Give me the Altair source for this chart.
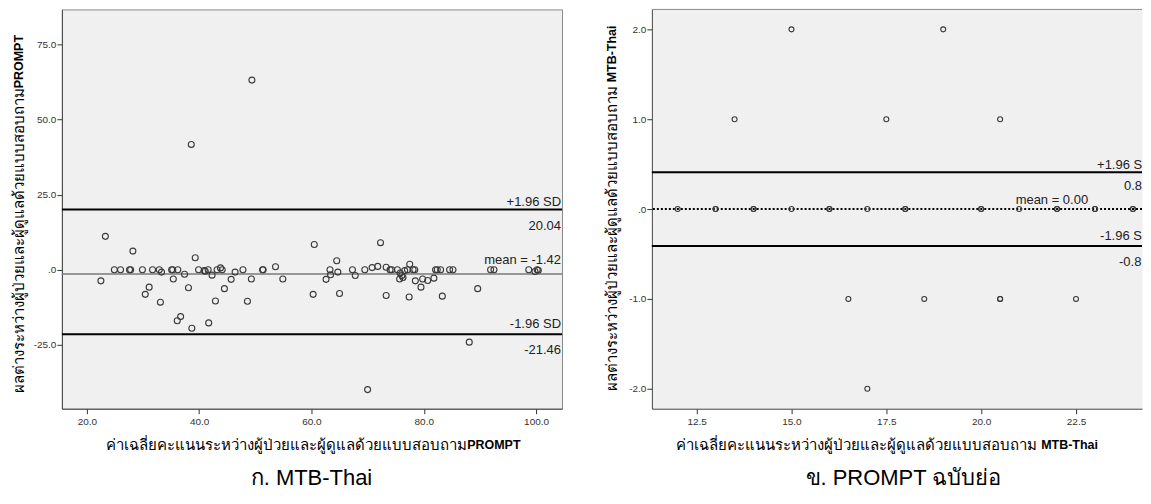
import altair as alt
import pandas as pd

# ---------------- data: left panel ----------------
left_x = [23.3, 28.2, 22.5, 24.9, 26.0, 27.6, 27.8, 29.9, 31.7, 32.9, 33.3, 35.1, 35.3, 36.2,
          37.4, 35.4, 38.1, 31.1, 30.4, 33.1, 36.7, 36.1, 38.7, 41.7, 39.3, 42.9, 44.5, 45.7,
          48.6, 49.3, 53.6, 54.9, 39.9, 40.9, 41.1, 41.6, 42.3, 43.2, 43.8, 44.1, 46.4, 47.8,
          51.3, 51.4, 60.5, 60.3, 72.3, 64.5, 63.3, 63.4, 62.6, 64.7, 65.0, 67.3, 67.8, 69.5,
          70.8, 71.8, 73.3, 73.3, 74.0, 74.3, 75.3, 75.8, 76.1, 75.7, 76.3, 76.6, 77.1, 77.5,
          78.1, 78.4, 77.4, 78.5, 79.5, 79.8, 80.7, 81.8, 82.1, 82.4, 83.0, 84.6, 85.2, 83.3,
          89.6, 91.9, 92.5, 98.7, 99.8, 100.2, 100.4, 88.1, 70.0, 49.4, 38.6]
left_y = [11.1, 6.2, -3.7, 0, 0, 0, 0, 0, 0, 0, -0.8, 0, 0, 0,
          -1.5, -3.1, -6.0, -5.8, -8.2, -10.8, -15.6, -17.0, -19.5, -17.7, 4.0, -10.4, -6.3, -3.2,
          -10.5, -3.1, 1.0, -3.1, 0, -0.3, -0.5, 0, -1.8, 0, 0.6, 0, -0.8, 0,
          0, 0, 8.4, -8.2, 9.0, 3.0, 0, -1.7, -3.2, -0.8, -7.9, 0, -1.9, 0,
          0.7, 1.1, 0.8, -8.6, 0, 0, 0, -1.1, -1.9, -3.1, -2.6, -0.3, 0, 1.8,
          0, 0, -9.1, -3.7, -5.8, -3.1, -3.6, -2.8, 0, 0, 0, 0, 0, -8.8,
          -6.3, 0, 0, 0, -0.6, 0, -0.2, -24.1, -39.9, 63.1, 41.7]
left_limits = [20.04, -21.46]
left_mean = [-1.42]
left_xticks = [20, 40, 60, 80, 100]
left_yticks = [-25, 0, 25, 50, 75]
left_xdomain = [15.56, 104.62]
left_ydomain = [-46.26, 86.63]

# ---------------- data: right panel ----------------
right_x = [12, 13, 13, 14, 14, 15, 16, 16, 17, 18, 18, 20, 20, 21, 22, 22, 23, 23, 24, 24,
           15, 19, 13.5, 17.5, 20.5, 16.5, 18.5, 20.5, 20.5, 22.5, 17]
right_y = [0, 0, 0, 0, 0, 0, 0, 0, 0, 0, 0, 0, 0, 0, 0, 0, 0, 0, 0, 0,
           2, 2, 1, 1, 1, -1, -1, -1, -1, -1, -2]
right_limits = [0.41, -0.41]
right_mean = [0.0]
right_xticks = [12.5, 15.0, 17.5, 20.0, 22.5]
right_yticks = [-2, -1, 0, 1, 2]
right_xdomain = [11.32, 24.24]
right_ydomain = [-2.222, 2.222]

# ---------------- texts ----------------
left_labels = ["+1.96 SD", "20.04", "mean = -1.42", "-1.96 SD", "-21.46"]
right_labels = ["+1.96 SD", "0.88", "mean = 0.00", "-1.96 SD", "-0.88"]
left_xtitle = ["ค่าเฉลี่ยคะแนนระหว่างผู้ป่วยและผู้ดูแลด้วยแบบสอบถาม", "PROMPT"]
left_ytitle = ["ผลต่างระหว่างผู้ป่วยและผู้ดูแลด้วยแบบสอบถาม", "PROMPT"]
right_xtitle = ["ค่าเฉลี่ยคะแนนระหว่างผู้ป่วยและผู้ดูแลด้วยแบบสอบถาม", "MTB-Thai"]
right_ytitle = ["ผลต่างระหว่างผู้ป่วยและผู้ดูแลด้วยแบบสอบถาม", "MTB-Thai"]
captions = ["ก. MTB-Thai", "ข. PROMPT ฉบับย่อ"]

FONT = "Liberation Sans, Arial, sans-serif"
FRAME = "#8a8a8a"
LABEL_EXPR = ("datum.value == 0 ? '.0' : (datum.value < 0 ? '-' : '') + "
              "format(abs(datum.value), '.1f')")


def one_text(text, x, y, **kw):
    return alt.Chart(pd.DataFrame({"t": [text]})).mark_text(font=FONT, **kw).encode(
        x=alt.value(x), y=alt.value(y), text="t:N")


def panel(px, py, limits, mean, xticks, yticks, xdom, ydom, width, height, labels,
          label_pos, mean_style, point_size, xtitle, ytitle, xtitle_pos, ytitle_pos,
          caption, caption_x, open_right=False):
    xax = alt.Axis(values=xticks, labelExpr=LABEL_EXPR, title=None, grid=False,
                   labelPadding=3)
    yax = alt.Axis(values=yticks, labelExpr=LABEL_EXPR, title=None, grid=False,
                   labelPadding=1)
    xsc = alt.Scale(domain=xdom, nice=False, zero=False)
    ysc = alt.Scale(domain=ydom, nice=False, zero=False)

    pts = alt.Chart(pd.DataFrame({"x": px, "y": py})).mark_point(
        shape="circle", filled=False, size=point_size, strokeWidth=1.1,
        color="#3a3a3a", opacity=1).encode(
        x=alt.X("x:Q", scale=xsc, axis=xax), y=alt.Y("y:Q", scale=ysc, axis=yax))

    lim = alt.Chart(pd.DataFrame({"v": limits})).mark_rule(
        color="black", strokeWidth=2).encode(y=alt.Y("v:Q", scale=ysc, axis=yax))
    mn = alt.Chart(pd.DataFrame({"v": mean})).mark_rule(**mean_style).encode(
        y=alt.Y("v:Q", scale=ysc, axis=yax))

    vals = [limits[0], limits[0], mean[0], limits[1], limits[1]]
    layers = [lim, mn, pts]
    for lab, v, (xp, dy, al, lim_w) in zip(labels, vals, label_pos):
        kw = dict(font=FONT, fontSize=13, align=al, baseline="middle", dy=dy,
                  color="#222")
        if lim_w:
            kw.update(limit=lim_w, ellipsis="\u200b")
        layers.append(
            alt.Chart(pd.DataFrame({"v": [v], "t": [lab]})).mark_text(**kw).encode(
                y=alt.Y("v:Q", scale=ysc, axis=yax), x=alt.value(xp), text="t:N"))

    # x title (regular + bold part)
    jx, ty, gap = xtitle_pos
    layers.append(one_text(xtitle[0], jx, ty, fontSize=15, align="right",
                           baseline="middle", color="black"))
    layers.append(one_text(xtitle[1], jx + gap, ty, fontSize=12.5, align="left",
                           baseline="middle", fontWeight="bold", color="black"))
    # y title (rotated)
    tx, jy, gap = ytitle_pos
    layers.append(one_text(ytitle[0], tx, jy, fontSize=15, align="right",
                           baseline="middle", angle=270, color="black"))
    layers.append(one_text(ytitle[1], tx, jy - gap, fontSize=12.5, align="left",
                           baseline="middle", angle=270, fontWeight="bold",
                           color="black"))
    # caption
    layers.append(one_text(caption, caption_x, height + 76, fontSize=22,
                           align="center", baseline="alphabetic", color="black"))

    props = dict(width=width, height=height)
    if open_right:
        # frame continues beyond the picture's right edge: top edge only
        layers.append(alt.Chart(pd.DataFrame({"a": [0]})).mark_rule(
            color=FRAME, strokeWidth=1).encode(
            x=alt.value(0), x2=alt.value(width), y=alt.value(0)))
        props["view"] = alt.ViewBackground(strokeOpacity=0)
    return alt.layer(*layers).properties(**props)


left = panel(left_x, left_y, left_limits, left_mean, left_xticks, left_yticks,
             left_xdomain, left_ydomain, 501, 400, left_labels,
             [(500, -8, "right", 0), (500, 17, "right", 0), (500, -14, "right", 0),
              (500, -10, "right", 0), (500, 16, "right", 0)],
             dict(color="#7a7a7a", strokeWidth=1.5), 36,
             left_xtitle, left_ytitle, (406, 436, 0), (-43, 79, 0),
             captions[0], 250)

right = panel(right_x, right_y, right_limits, right_mean, right_xticks, right_yticks,
              right_xdomain, right_ydomain, 491, 400, right_labels,
              [(446, -7, "left", 46), (473, 14, "left", 19), (437, -9, "right", 0),
               (449, -10, "left", 42), (468, 16, "left", 23)],
              dict(color="black", strokeWidth=2, strokeDash=[2, 2]), 25,
              right_xtitle, right_ytitle, (386, 436, 4), (-40, 77, 4),
              captions[1], 252, open_right=True)

chart = alt.hconcat(left, right, spacing=90, bounds="flush").properties(
    padding={"left": 3, "top": 0, "right": 0, "bottom": 0},
    background="white",
).configure_view(
    fill="#f0f0f0", stroke=FRAME, strokeWidth=1
).configure_axis(
    labelFont=FONT, labelFontSize=10, labelColor="#333",
    tickSize=5, tickColor="#333", domainColor="#444", domainWidth=1
)

chart.save("out.html", embed_options={"renderer": "svg", "actions": False})
